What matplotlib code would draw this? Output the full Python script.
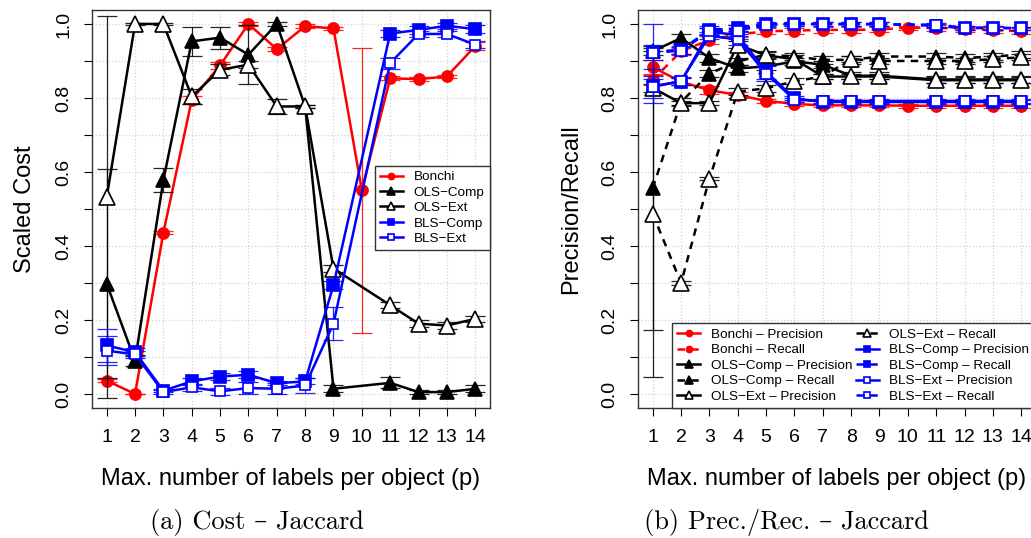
import numpy as np
import matplotlib.pyplot as plt

plt.rcParams['font.family'] = ['Liberation Sans', 'DejaVu Sans']

x = np.arange(1, 15)
nan = np.nan

# (a) scaled cost
bonchi_cost = [0.036, 0.0, 0.436, 0.795, 0.888, 1.0, 0.932, 0.994, 0.988, 0.551, 0.853, 0.851, 0.858, 0.940]
bonchi_cost_err = [0.005, 0.0, 0.005, 0.01, 0.01, 0.005, 0.005, 0.005, 0.005, 0.385, 0.005, 0.005, 0.005, 0.01]
olsc_cost = [0.298, 0.090, 0.578, 0.953, 0.963, 0.917, 1.0, 0.777, 0.014, nan, 0.030, 0.005, 0.005, 0.014]
olsc_cost_err = [0.31, 0.015, 0.033, 0.04, 0.03, 0.08, 0.005, 0.005, 0.01, nan, 0.015, 0.005, 0.005, 0.01]
olse_cost = [0.532, 1.0, 1.0, 0.804, 0.876, 0.890, 0.777, 0.777, 0.339, nan, 0.240, 0.190, 0.185, 0.203]
olse_cost_err = [0.49, 0.002, 0.002, 0.02, 0.015, 0.01, 0.02, 0.005, 0.01, nan, 0.008, 0.01, 0.01, 0.008]
blsc_cost = [0.131, 0.113, 0.009, 0.034, 0.047, 0.052, 0.029, 0.034, 0.294, nan, 0.974, 0.984, 0.995, 0.986]
blsc_cost_err = [0.045, 0.01, 0.005, 0.01, 0.01, 0.01, 0.005, 0.008, 0.01, nan, 0.01, 0.01, 0.008, 0.01]
blse_cost = [0.117, 0.107, 0.005, 0.018, 0.007, 0.016, 0.014, 0.023, 0.190, nan, 0.894, 0.973, 0.973, 0.944]
blse_cost_err = [0.04, 0.01, 0.005, 0.01, 0.01, 0.015, 0.015, 0.02, 0.044, nan, 0.015, 0.008, 0.008, 0.01]

# (b) precision / recall
bonchi_prec = [0.883, 0.844, 0.821, 0.808, 0.792, 0.784, 0.780, 0.780, 0.780, 0.779, 0.779, 0.779, 0.779, 0.779]
bonchi_rec = [0.849, 0.926, 0.957, 0.972, 0.980, 0.982, 0.984, 0.984, 0.985, 0.990, 0.990, 0.987, 0.984, 0.980]
olsc_prec = [0.926, 0.962, 0.908, 0.880, 0.885, 0.899, 0.890, 0.860, 0.860, nan, 0.850, 0.850, 0.850, 0.850]
olsc_rec = [0.556, 0.789, 0.866, 0.899, 0.917, 0.912, 0.903, 0.903, 0.912, nan, 0.912, 0.908, 0.912, 0.917]
olse_prec = [0.827, 0.786, 0.786, 0.944, 0.915, 0.905, 0.858, 0.858, 0.858, nan, 0.848, 0.848, 0.848, 0.848]
olse_rec = [0.487, 0.300, 0.582, 0.817, 0.826, 0.845, 0.858, 0.905, 0.900, nan, 0.900, 0.900, 0.905, 0.910]
blsc_prec = [0.832, 0.844, 0.979, 0.970, 0.871, 0.799, 0.789, 0.789, 0.789, nan, 0.789, 0.789, 0.789, 0.789]
blsc_rec = [0.925, 0.930, 0.984, 0.988, 1.0, 1.0, 1.0, 1.0, 1.0, nan, 0.995, 0.988, 0.990, 0.988]
blse_prec = [0.830, 0.846, 0.968, 0.958, 0.866, 0.795, 0.792, 0.792, 0.792, nan, 0.792, 0.792, 0.792, 0.792]
blse_rec = [0.922, 0.928, 0.980, 0.982, 0.998, 0.999, 1.0, 0.999, 0.999, nan, 0.998, 0.990, 0.990, 0.988]

bonchi_prec_err = [0.02, 0.01, 0.01, 0.008, 0.005, 0.005, 0.005, 0.005, 0.005, 0.005, 0.005, 0.005, 0.005, 0.005]
bonchi_rec_err = [0.015, 0.01, 0.01, 0.008, 0.008, 0.008, 0.008, 0.008, 0.008, 0.005, 0.008, 0.008, 0.008, 0.008]
olsc_prec_err = [0.01, 0.01, 0.01, 0.01, 0.01, 0.01, 0.01, 0.01, 0.01, nan, 0.01, 0.01, 0.01, 0.01]
olsc_rec_err = [0.384, 0.01, 0.01, 0.01, 0.01, 0.01, 0.01, 0.01, 0.01, nan, 0.01, 0.01, 0.01, 0.01]
olse_prec_err = [0.01, 0.005, 0.005, 0.01, 0.01, 0.01, 0.008, 0.008, 0.008, nan, 0.008, 0.008, 0.008, 0.008]
olse_rec_err = [0.44, 0.005, 0.005, 0.01, 0.01, 0.008, 0.008, 0.008, 0.008, nan, 0.008, 0.008, 0.008, 0.008]
blsc_prec_err = [0.045, 0.01, 0.01, 0.01, 0.02, 0.005, 0.005, 0.005, 0.005, nan, 0.005, 0.005, 0.005, 0.005]
blsc_rec_err = [0.075, 0.01, 0.01, 0.01, 0.005, 0.005, 0.005, 0.005, 0.005, nan, 0.005, 0.005, 0.005, 0.005]
blse_prec_err = [0.03, 0.01, 0.01, 0.015, 0.02, 0.005, 0.005, 0.005, 0.005, nan, 0.005, 0.005, 0.005, 0.005]
blse_rec_err = [0.02, 0.01, 0.01, 0.015, 0.005, 0.005, 0.005, 0.005, 0.005, nan, 0.005, 0.005, 0.005, 0.005]


def draw(ax, y, err, color, ls, marker, ms, filled, label):
    y = np.asarray(y, dtype=float)
    err = np.asarray(err, dtype=float)
    m = ~np.isnan(y)
    ax.errorbar(x[m], y[m], yerr=err[m], fmt='none', ecolor=color, elinewidth=0.9,
                capsize=7, capthick=0.9, alpha=0.85)
    ax.plot(x[m], y[m], color=color, ls=ls, lw=1.8, marker=marker, ms=ms,
            mfc=color if filled else 'white', mec=color, mew=1.2, label=label)


def style(ax, ylabel):
    ax.set_xlim(0.48, 14.52)
    ax.set_ylim(-0.038, 1.038)
    ax.set_xticks(x)
    ax.set_xticklabels([str(i) for i in x])
    yt = np.round(np.arange(0, 1.01, 0.1), 1)
    ax.set_yticks(yt)
    ax.set_yticklabels(['%.1f' % v if i % 2 == 0 else '' for i, v in enumerate(yt)],
                       rotation=90, va='center')
    ax.grid(True, color='lightgray', ls=':', lw=0.9)
    ax.set_axisbelow(True)
    ax.tick_params(direction='out', length=6, width=0.8, labelsize=14)
    ax.tick_params(axis='x', pad=9)
    ax.tick_params(axis='y', pad=8)
    for s in ax.spines.values():
        s.set_linewidth(1.0)
        s.set_color('#333333')
    ax.set_xlabel('Max. number of labels per object (p)', fontsize=17, labelpad=16)
    ax.set_ylabel(ylabel, fontsize=17, labelpad=14)


leg_kw = dict(fontsize=9.7, markerscale=0.55, labelspacing=0.22, handlelength=1.7,
              handletextpad=0.8, fancybox=False, framealpha=1, edgecolor='#333333',
              borderpad=0.4, borderaxespad=0)

fig = plt.figure(figsize=(10.31, 5.38), dpi=100)
ax1 = fig.add_axes([0.0892, 0.2416, 0.386, 0.74])
ax2 = fig.add_axes([0.6188, 0.2416, 0.386, 0.74])

draw(ax1, bonchi_cost, bonchi_cost_err, 'red', '-', 'o', 8, True, 'Bonchi')
draw(ax1, olsc_cost, olsc_cost_err, 'black', '-', '^', 10, True, 'OLS−Comp')
draw(ax1, olse_cost, olse_cost_err, 'black', '-', '^', 11, False, 'OLS−Ext')
draw(ax1, blsc_cost, blsc_cost_err, 'blue', '-', 's', 8, True, 'BLS−Comp')
draw(ax1, blse_cost, blse_cost_err, 'blue', '-', 's', 7, False, 'BLS−Ext')
style(ax1, 'Scaled Cost')
ax1.legend(loc='center right', bbox_to_anchor=(1.0, 0.5025), **leg_kw)

dash = (0, (3, 2.5))
draw(ax2, bonchi_prec, bonchi_prec_err, 'red', '-', 'o', 8, True, 'Bonchi – Precision')
draw(ax2, bonchi_rec, bonchi_rec_err, 'red', dash, 'o', 8, True, 'Bonchi – Recall')
draw(ax2, olsc_prec, olsc_prec_err, 'black', '-', '^', 10, True, 'OLS−Comp – Precision')
draw(ax2, olsc_rec, olsc_rec_err, 'black', dash, '^', 10, True, 'OLS−Comp – Recall')
draw(ax2, olse_prec, olse_prec_err, 'black', '-', '^', 11, False, 'OLS−Ext – Precision')
draw(ax2, olse_rec, olse_rec_err, 'black', dash, '^', 11, False, 'OLS−Ext – Recall')
draw(ax2, blsc_prec, blsc_prec_err, 'blue', '-', 's', 8, True, 'BLS−Comp – Precision')
draw(ax2, blsc_rec, blsc_rec_err, 'blue', dash, 's', 8, True, 'BLS−Comp – Recall')
draw(ax2, blse_prec, blse_prec_err, 'blue', '-', 's', 7, False, 'BLS−Ext – Precision')
draw(ax2, blse_rec, blse_rec_err, 'blue', dash, 's', 7, False, 'BLS−Ext – Recall')
style(ax2, 'Precision/Recall')
ax2.legend(loc='lower left', bbox_to_anchor=(0.085, 0.0), ncol=2, columnspacing=0.25, **leg_kw)

cap_font = ['cmr10', 'DejaVu Serif']
fig.text(0.249, 0.028, '(a) Cost – Jaccard', family=cap_font, fontsize=19, ha='center', va='center')
fig.text(0.763, 0.028, '(b) Prec./Rec. – Jaccard', family=cap_font, fontsize=19, ha='center', va='center')

fig.savefig('out.png', dpi=100)
